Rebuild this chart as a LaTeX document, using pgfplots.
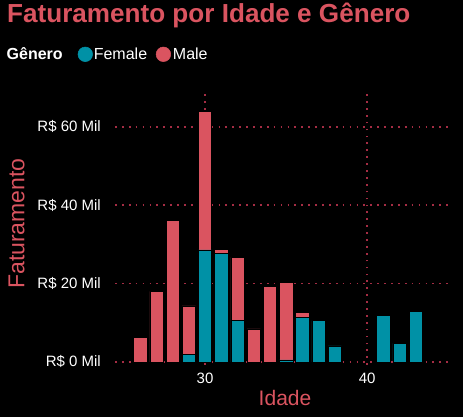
\documentclass[border=0pt]{standalone}
\usepackage{pgfplots}
\pgfplotsset{compat=1.18}
\usepackage{fontspec}
\setmainfont{Liberation Sans}
\definecolor{redc}{RGB}{218,84,96}
\definecolor{tealc}{RGB}{0,145,166}
\definecolor{gridc}{RGB}{165,45,68}
\begin{document}
\begin{tikzpicture}
\fill[black] (0,0) rectangle (463bp,417bp);
\begin{axis}[
  at={(115bp,52bp)}, anchor=south west,
  scale only axis, width=338bp, height=275bp,
  xmin=24.44, xmax=45.3, ymin=-0.8, ymax=69.4,
  ybar stacked, bar width=0.82,
  axis line style={draw=none},
  major tick length=0pt,
  xtick={30,40}, ytick={0,20,40,60},
  xticklabels={30,40},
  yticklabels={R\$ 0 Mil, R\$ 20 Mil, R\$ 40 Mil, R\$ 60 Mil},
  grid=major,
  major grid style={gridc, line width=1.7bp, dash pattern=on 1.7bp off 5.2bp},
  yticklabel style={font=\fontsize{15bp}{18bp}\selectfont, text=white, inner sep=0pt, anchor=east, xshift=-14bp},
  xticklabel style={font=\fontsize{15bp}{18bp}\selectfont, text=white, inner sep=0pt, anchor=north, yshift=-7.5bp},
  title={Faturamento por Idade e Gênero},
  title style={at={(axis description cs:-0.3195,1.2447)}, anchor=base west, yshift=-6pt, inner sep=0pt, font=\bfseries\fontsize{26.1bp}{30bp}\selectfont, text=redc},
  xlabel={Idade},
  xlabel style={at={(axis description cs:0.503,-0.12)}, anchor=center, inner sep=0pt, font=\fontsize{21bp}{25bp}\selectfont, text=redc},
  ylabel={Faturamento},
  ylabel style={at={(axis description cs:-0.2914,0.5145)}, anchor=center, inner sep=0pt, font=\fontsize{23bp}{27bp}\selectfont, text=redc},
  legend columns=-1, legend cell align=left,
  legend style={at={(axis description cs:-0.3204,1.1298)}, anchor=west, draw=none, fill=none, inner sep=0pt, outer sep=0pt,
    text=white, font=\fontsize{16bp}{19bp}\selectfont, nodes={inner sep=0pt}, column sep=0pt,
    /tikz/column 2/.style={column sep=15bp},
    /tikz/column 3/.style={column sep=1bp},
    /tikz/column 4/.style={column sep=8.7bp},
    /tikz/column 5/.style={column sep=2bp}},
]
\addlegendimage{empty legend}
\addlegendentry{\textbf{Gênero}}
\addplot[fill=tealc, draw=black, line width=0.5bp,
  legend image code/.code={\fill[tealc] (0bp,0bp) circle (7.3bp);}] table {
x y
26 0
27 0
28 0
29 1.9
30 28.6
31 27.6
32 10.5
33 0
34 0
35 0.5
36 11.3
37 10.5
38 4.1
41 11.8
42 4.7
43 12.9
};
\addlegendentry{Female}
\addplot[fill=redc, draw=black, line width=0.5bp,
  legend image code/.code={\fill[redc] (0bp,0bp) circle (7.3bp);}] table {
x y
26 6.3
27 18.0
28 36.1
29 12.4
30 35.3
31 1.1
32 16.2
33 8.4
34 19.2
35 19.7
36 1.4
37 0
38 0
41 0
42 0
43 0
};
\addlegendentry{Male}
\end{axis}
\end{tikzpicture}
\end{document}
